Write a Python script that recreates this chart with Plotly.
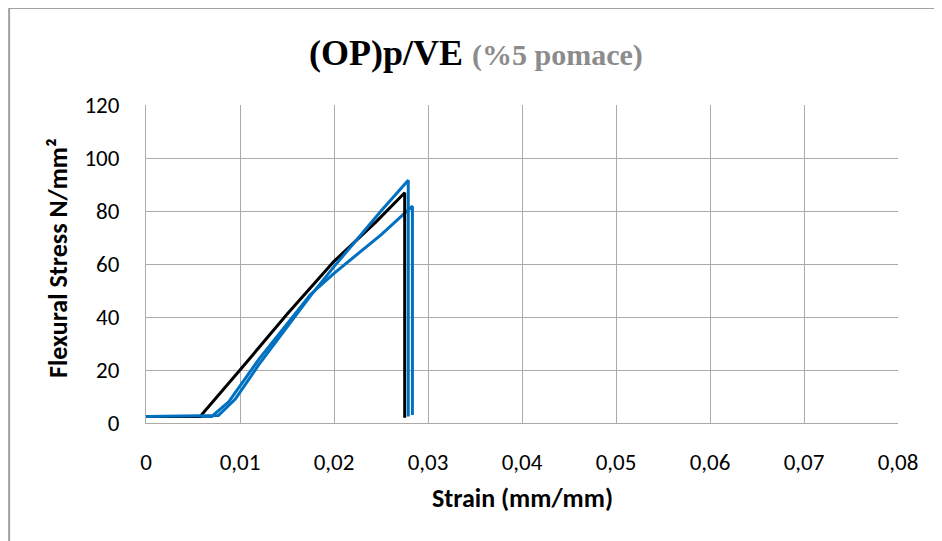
import plotly.graph_objects as go

# ---- data ----
black_strain = [0.0, 0.00576, 0.0100, 0.0150, 0.0200, 0.0245, 0.02752, 0.02752]
black_stress = [2.5, 2.5, 20.0, 41.0, 61.0, 76.0, 86.9, 2.0]

blue1_strain = [0.0, 0.0077, 0.0095, 0.0120, 0.0175, 0.0200, 0.0250, 0.0279, 0.0279]
blue1_stress = [2.5, 2.8, 9.0, 22.0, 48.0, 59.0, 80.0, 91.6, 2.5]

blue2_strain = [0.0, 0.0070, 0.0088, 0.0120, 0.0175, 0.0200, 0.0250, 0.02834, 0.02834]
blue2_stress = [2.5, 2.5, 8.0, 24.0, 48.5, 56.5, 71.0, 81.8, 3.0]

x_tick_vals = [0, 0.01, 0.02, 0.03, 0.04, 0.05, 0.06, 0.07, 0.08]
x_tick_text = ["0", "0,01", "0,02", "0,03", "0,04", "0,05", "0,06", "0,07", "0,08"]
y_tick_vals = [0, 20, 40, 60, 80, 100, 120]

title_main = "(OP)p/VE"
title_sub = "(%5 pomace)"
x_title = "Strain (mm/mm)"
y_title = "Flexural Stress N/mm²"

BLUE = "#0070C0"
GRID = "#ABABAB"
FONT = "Calibri, Carlito, Lato, 'Liberation Sans', sans-serif"
SERIF = "'Liberation Serif', 'Times New Roman', serif"

fig = go.Figure()
fig.add_trace(go.Scatter(x=blue2_strain, y=blue2_stress, mode="lines",
                         line=dict(color=BLUE, width=3), showlegend=False))
fig.add_trace(go.Scatter(x=black_strain, y=black_stress, mode="lines",
                         line=dict(color="#000000", width=3), showlegend=False))
fig.add_trace(go.Scatter(x=blue1_strain, y=blue1_stress, mode="lines",
                         line=dict(color=BLUE, width=3), showlegend=False))

fig.update_layout(
    width=934, height=533,
    margin=dict(l=138, r=44, t=97, b=118, pad=0, autoexpand=False),
    paper_bgcolor="white", plot_bgcolor="white",
    font=dict(family=FONT, size=23, color="#000000"),
    xaxis=dict(range=[0, 0.08], tickvals=x_tick_vals, ticktext=x_tick_text,
               showgrid=True, gridcolor=GRID, gridwidth=1,
               showline=True, linecolor=GRID, linewidth=1,
               zeroline=False, ticks="outside", ticklen=18, tickcolor="rgba(0,0,0,0)",
               tickfont=dict(family=FONT, size=23), automargin=False),
    yaxis=dict(range=[0, 120], tickvals=y_tick_vals,
               showgrid=True, gridcolor=GRID, gridwidth=1,
               showline=True, linecolor=GRID, linewidth=1,
               zeroline=False, ticks="outside", ticklen=21, tickcolor="rgba(0,0,0,0)",
               tickfont=dict(family=FONT, size=23), automargin=False),
    annotations=[
        dict(xref="paper", yref="paper", x=0.439, y=1.165, xanchor="center", yanchor="middle",
             showarrow=False,
             text=("<b>" + title_main + "</b> <span style='font-size:30px;color:#8C8C8C'><b>"
                   + title_sub + "</b></span>"),
             font=dict(family=SERIF, size=36, color="#000000")),
        dict(xref="paper", yref="paper", x=0.5, y=-0.237, xanchor="center", yanchor="middle",
             showarrow=False, text="<b>" + x_title + "</b>",
             font=dict(family=FONT, size=26, color="#000000")),
        dict(xref="paper", yref="paper", x=-0.117, y=0.519, xanchor="center", yanchor="middle",
             showarrow=False, textangle=-90, text="<b>" + y_title + "</b>",
             font=dict(family=FONT, size=26, color="#000000")),
    ],
    shapes=[
        dict(type="line", xref="paper", yref="paper", x0=-0.182, x1=1.1, y0=1.305, y1=1.305,
             line=dict(color="#A0A0A0", width=2)),
        dict(type="line", xref="paper", yref="paper", x0=-0.182, x1=-0.182, y0=-0.5, y1=1.305,
             line=dict(color="#A0A0A0", width=2)),
    ],
)

fig.write_html("out.html")
